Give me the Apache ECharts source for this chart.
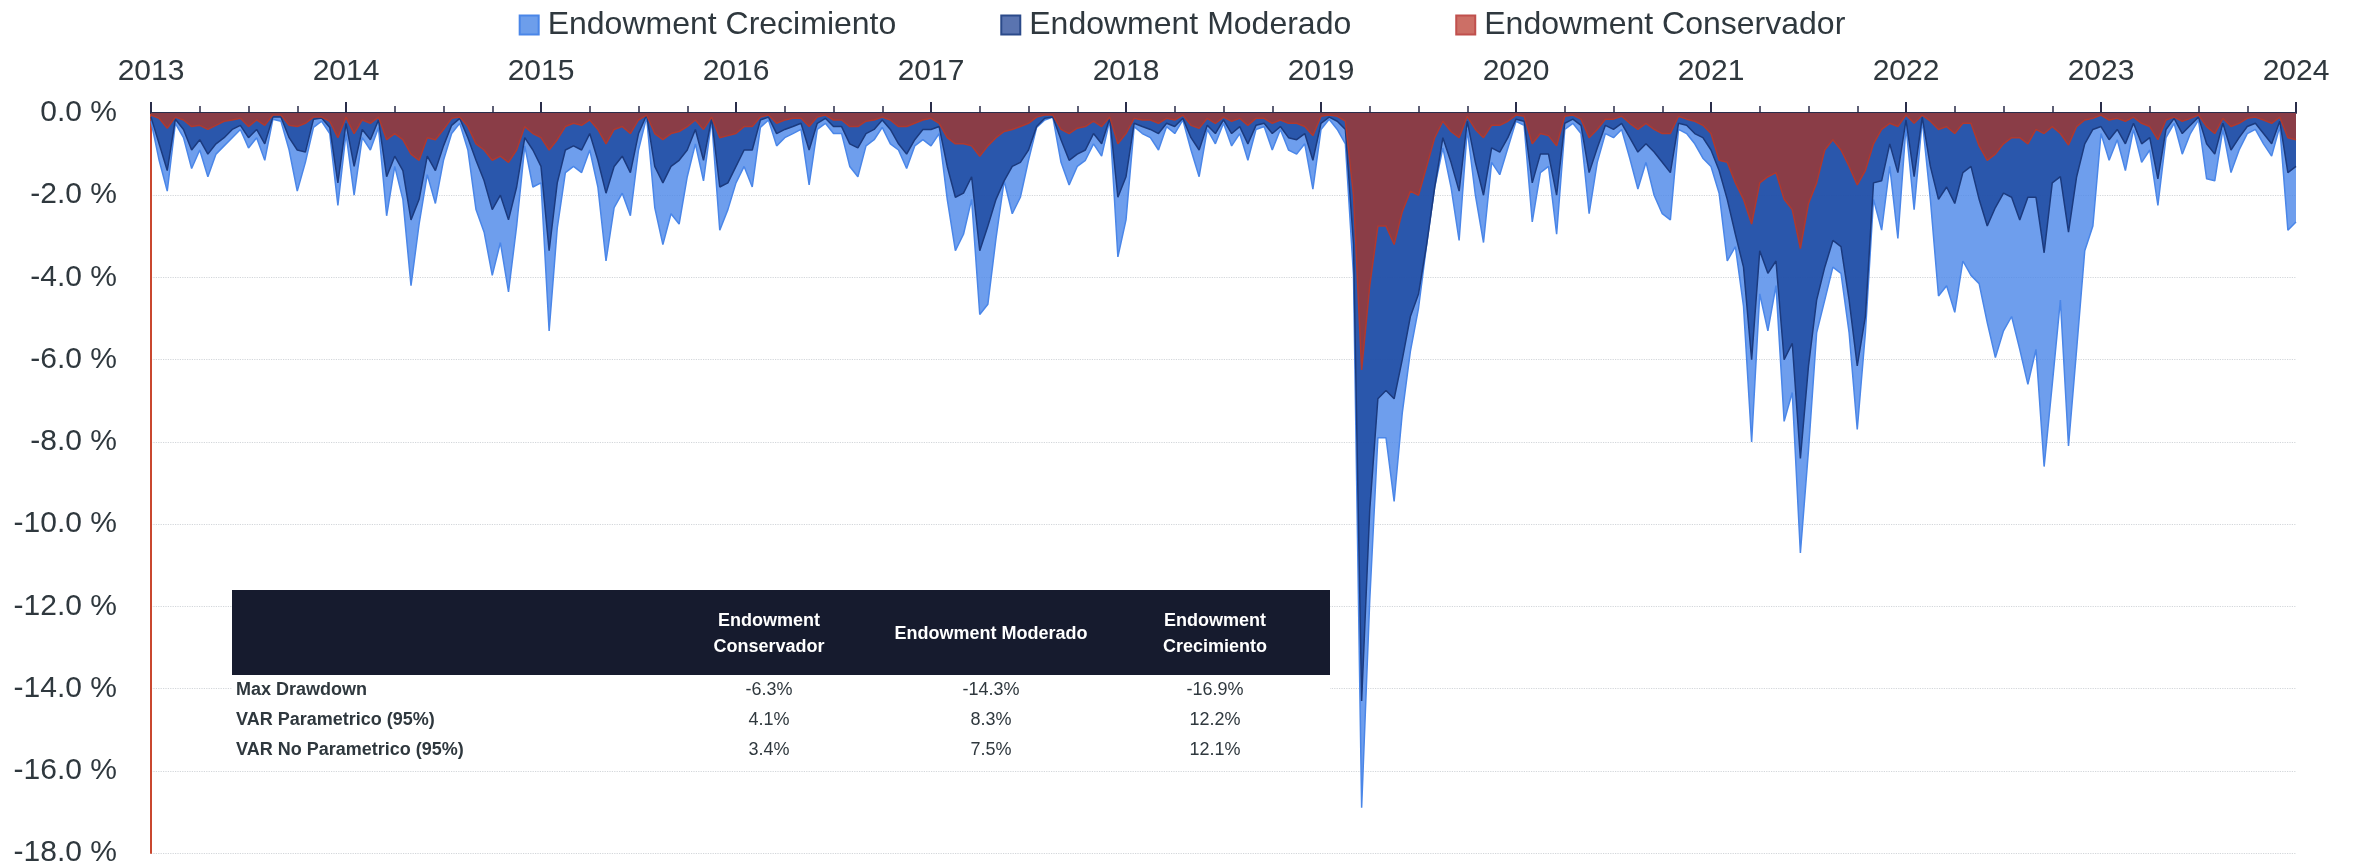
<!DOCTYPE html>
<html><head><meta charset="utf-8">
<script src="https://cdn.jsdelivr.net/npm/echarts@6/dist/echarts.min.js"></script>
<style>html,body{margin:0;padding:0;background:#fff}#c{width:2364px;height:868px}</style>
</head><body><div id="c"></div>
<script>
// Semi-monthly samples (24 per year) from 2013 to 2024, drawdown in %
const startYear = 2013;
const pointsPerYear = 24;
const yearLabels = ['2013','2014','2015','2016','2017','2018','2019','2020','2021','2022','2023','2024'];

const crecimiento = [
  // 2013
  -0.2,-1.15,-1.9,-0.25,-0.6,-1.35,-0.9,-1.55,-1.0,-0.8,-0.6,-0.4,-0.85,-0.6,-1.15,-0.15,-0.2,-0.9,-1.9,-1.2,-0.35,-0.2,-0.5,-2.25,
  // 2014
  -0.5,-2.0,-0.6,-0.9,-0.35,-2.5,-1.3,-2.1,-4.2,-2.7,-1.5,-2.2,-1.15,-0.5,-0.25,-0.9,-2.35,-2.9,-3.95,-3.15,-4.35,-2.75,-0.8,-1.8,
  // 2015
  -1.7,-5.3,-2.8,-1.45,-1.3,-1.45,-0.9,-1.8,-3.6,-2.3,-1.95,-2.5,-0.9,-0.1,-2.3,-3.2,-2.45,-2.7,-1.55,-0.75,-1.65,-0.17,-2.85,-2.35,
  // 2016
  -1.7,-1.3,-1.8,-0.35,-0.17,-0.8,-0.6,-0.5,-0.4,-1.75,-0.4,-0.25,-0.5,-0.5,-1.3,-1.55,-0.8,-0.65,-0.35,-0.75,-0.9,-1.35,-0.8,-0.65,
  // 2017
  -0.8,-0.5,-2.1,-3.35,-2.95,-2.1,-4.9,-4.65,-3.05,-1.65,-2.45,-2.05,-1.15,-0.35,-0.17,-0.1,-1.2,-1.75,-1.3,-1.15,-0.75,-1.05,-0.17,-3.5,
  // 2018
  -2.6,-0.33,-0.5,-0.6,-0.9,-0.33,-0.5,-0.17,-0.9,-1.55,-0.4,-0.75,-0.25,-0.8,-0.5,-1.15,-0.4,-0.33,-0.9,-0.4,-0.9,-1.0,-0.75,-1.85,
  // 2019
  -0.4,-0.15,-0.4,-0.75,-3.95,-16.9,-11.85,-7.9,-7.9,-9.45,-7.3,-5.8,-4.75,-3.2,-1.8,-0.85,-1.8,-3.1,-0.4,-2.0,-3.15,-1.2,-1.5,-0.85,
  // 2020
  -0.2,-0.3,-2.65,-1.45,-1.3,-2.95,-0.4,-0.25,-0.5,-2.45,-1.2,-0.5,-0.6,-0.4,-1.1,-1.85,-1.2,-2.0,-2.45,-2.6,-0.4,-0.5,-0.75,-1.1,
  // 2021
  -1.3,-1.95,-3.6,-3.25,-4.7,-8.0,-4.4,-5.3,-4.2,-7.5,-6.8,-10.7,-8.2,-5.35,-4.55,-3.75,-3.9,-5.35,-7.7,-5.35,-2.1,-2.85,-1.3,-3.05,
  // 2022
  -0.33,-2.35,-0.17,-2.1,-4.45,-4.2,-4.85,-3.6,-3.95,-4.15,-5.1,-5.95,-5.3,-4.95,-5.75,-6.6,-5.75,-8.6,-6.6,-4.55,-8.1,-5.75,-3.35,-2.75,
  // 2023
  -0.5,-1.15,-0.65,-1.4,-0.4,-1.2,-0.9,-2.25,-0.6,-0.25,-1.0,-0.5,-0.17,-1.6,-1.65,-0.4,-1.45,-0.9,-0.5,-0.4,-0.75,-1.05,-0.33,-2.85,
  // 2024
  -2.65
];

const moderado = [
  -0.1,-0.75,-1.4,-0.15,-0.4,-0.9,-0.65,-1.0,-0.75,-0.6,-0.4,-0.3,-0.6,-0.4,-0.75,-0.1,-0.1,-0.6,-0.9,-0.95,-0.15,-0.12,-0.35,-1.7,
  -0.25,-1.3,-0.4,-0.65,-0.17,-1.55,-1.05,-1.4,-2.6,-2.1,-1.05,-1.4,-0.8,-0.3,-0.13,-0.6,-1.15,-1.65,-2.35,-2.0,-2.6,-1.8,-0.6,-0.9,
  -1.3,-3.35,-1.7,-0.9,-0.8,-0.9,-0.5,-1.15,-1.95,-1.3,-1.05,-1.45,-0.5,-0.05,-1.3,-1.7,-1.3,-1.15,-0.9,-0.4,-1.15,-0.13,-1.8,-1.7,
  -1.3,-0.9,-0.9,-0.17,-0.1,-0.5,-0.4,-0.33,-0.25,-0.9,-0.25,-0.13,-0.33,-0.33,-0.75,-0.85,-0.5,-0.4,-0.17,-0.4,-0.75,-1.0,-0.65,-0.4,
  -0.4,-0.33,-1.3,-2.05,-1.95,-1.55,-3.35,-2.75,-2.1,-1.65,-1.3,-1.2,-0.9,-0.33,-0.13,-0.1,-0.65,-1.15,-1.0,-0.9,-0.5,-0.75,-0.13,-2.05,
  -1.55,-0.25,-0.33,-0.4,-0.5,-0.25,-0.33,-0.13,-0.6,-0.9,-0.3,-0.5,-0.17,-0.5,-0.33,-0.75,-0.3,-0.25,-0.5,-0.33,-0.6,-0.65,-0.5,-1.15,
  -0.25,-0.1,-0.2,-0.4,-3.2,-14.3,-9.65,-6.95,-6.75,-6.95,-6.0,-4.95,-4.4,-3.2,-1.8,-0.6,-1.2,-1.9,-0.2,-1.2,-2.0,-0.85,-0.95,-0.6,
  -0.15,-0.2,-1.7,-1.0,-1.0,-2.0,-0.25,-0.15,-0.3,-1.45,-0.85,-0.3,-0.4,-0.25,-0.6,-0.95,-0.75,-0.95,-1.2,-1.45,-0.25,-0.3,-0.5,-0.6,
  -0.9,-1.4,-2.1,-2.95,-3.75,-6.0,-3.35,-3.9,-3.6,-6.0,-5.6,-8.4,-6.15,-4.55,-3.75,-3.1,-3.25,-4.55,-6.15,-4.95,-1.7,-1.65,-0.75,-1.45,
  -0.17,-1.55,-0.1,-1.3,-2.1,-1.8,-2.2,-1.45,-1.3,-2.1,-2.75,-2.3,-1.95,-2.05,-2.6,-2.05,-2.05,-3.4,-1.7,-1.55,-2.9,-1.55,-0.75,-0.4,
  -0.33,-0.65,-0.4,-0.75,-0.25,-0.75,-0.6,-1.6,-0.4,-0.13,-0.5,-0.3,-0.1,-0.75,-1.0,-0.25,-0.9,-0.6,-0.33,-0.25,-0.5,-0.75,-0.2,-1.45,
  -1.3
];

const conservador = [
  -0.05,-0.13,-0.37,-0.1,-0.17,-0.33,-0.3,-0.4,-0.3,-0.2,-0.17,-0.13,-0.33,-0.17,-0.3,-0.05,-0.05,-0.3,-0.33,-0.25,-0.1,-0.1,-0.2,-0.6,
  -0.1,-0.5,-0.17,-0.25,-0.1,-0.65,-0.5,-0.65,-1.0,-1.15,-0.6,-0.65,-0.4,-0.13,-0.1,-0.33,-0.75,-0.9,-1.15,-1.05,-1.2,-0.9,-0.33,-0.5,
  -0.6,-0.9,-0.65,-0.33,-0.25,-0.3,-0.17,-0.4,-0.75,-0.4,-0.33,-0.5,-0.17,-0.05,-0.5,-0.65,-0.5,-0.45,-0.33,-0.17,-0.4,-0.1,-0.6,-0.55,
  -0.5,-0.33,-0.33,-0.1,-0.05,-0.25,-0.17,-0.13,-0.13,-0.33,-0.1,-0.05,-0.17,-0.17,-0.33,-0.33,-0.2,-0.17,-0.1,-0.17,-0.33,-0.33,-0.25,-0.17,
  -0.13,-0.25,-0.6,-0.75,-0.75,-0.8,-1.05,-0.8,-0.6,-0.45,-0.4,-0.33,-0.25,-0.1,-0.05,-0.05,-0.4,-0.5,-0.37,-0.33,-0.2,-0.33,-0.1,-0.75,
  -0.5,-0.13,-0.17,-0.17,-0.25,-0.13,-0.17,-0.05,-0.3,-0.37,-0.13,-0.25,-0.1,-0.2,-0.13,-0.3,-0.13,-0.13,-0.25,-0.17,-0.25,-0.25,-0.33,-0.55,
  -0.08,-0.05,-0.08,-0.2,-2.0,-6.25,-4.2,-2.75,-2.75,-3.2,-2.4,-1.9,-2.0,-1.3,-0.6,-0.2,-0.45,-0.6,-0.08,-0.4,-0.6,-0.3,-0.3,-0.2,
  -0.05,-0.08,-0.75,-0.5,-0.55,-0.8,-0.08,-0.05,-0.15,-0.6,-0.4,-0.15,-0.15,-0.08,-0.25,-0.4,-0.25,-0.4,-0.5,-0.5,-0.08,-0.15,-0.2,-0.3,
  -0.5,-1.15,-1.2,-1.7,-2.1,-2.7,-1.7,-1.55,-1.45,-2.1,-2.35,-3.3,-2.2,-1.7,-0.9,-0.65,-0.9,-1.3,-1.75,-1.4,-0.75,-0.4,-0.25,-0.33,
  -0.05,-0.25,-0.05,-0.2,-0.4,-0.33,-0.5,-0.25,-0.25,-0.8,-1.15,-1.0,-0.75,-0.6,-0.6,-0.75,-0.4,-0.5,-0.33,-0.5,-0.78,-0.33,-0.17,-0.13,
  -0.05,-0.17,-0.13,-0.2,-0.1,-0.25,-0.33,-0.65,-0.17,-0.1,-0.2,-0.13,-0.05,-0.33,-0.5,-0.13,-0.33,-0.25,-0.13,-0.1,-0.17,-0.25,-0.1,-0.6,
  -0.65
];

const seriesNames = ['Endowment Crecimiento','Endowment Moderado','Endowment Conservador'];
const tableColumns = ['Endowment\nConservador','Endowment Moderado','Endowment\nCrecimiento'];
const tableRows = ['Max Drawdown','VAR Parametrico (95%)','VAR No Parametrico (95%)'];
const tableValues = [
  ['-6.3%','-14.3%','-16.9%'],
  ['4.1%','8.3%','12.2%'],
  ['3.4%','7.5%','12.1%']
];

const toPairs = arr => arr.map((v, i) => [startYear + i / pointsPerYear, v]);

const FONT = '"Liberation Sans", Arial, sans-serif';
const TXT = '#2f383e';

const chart = echarts.init(document.getElementById('c'), null, {renderer: 'canvas'});

// Table graphics
const colX = [769, 991, 1215];
const rowY = [690, 720, 750];
const graphics = [
  {type: 'rect', z: 100, shape: {x: 232, y: 590, width: 1098, height: 85}, style: {fill: '#161b2e'}},
  {type: 'rect', z: 100, shape: {x: 232, y: 675, width: 1098, height: 90}, style: {fill: '#ffffff'}}
];
tableColumns.forEach((t, i) => {
  graphics.push({type: 'text', z: 101, style: {text: t, x: colX[i], y: 634, align: 'center', verticalAlign: 'middle',
    fontSize: 18, fontWeight: 'bold', fontFamily: FONT, fill: '#ffffff', lineHeight: 26}});
});
tableRows.forEach((t, r) => {
  graphics.push({type: 'text', z: 101, style: {text: t, x: 236, y: rowY[r], align: 'left', verticalAlign: 'middle',
    fontSize: 18, fontWeight: 'bold', fontFamily: FONT, fill: TXT}});
  tableValues[r].forEach((v, c) => {
    graphics.push({type: 'text', z: 101, style: {text: v, x: colX[c], y: rowY[r], align: 'center', verticalAlign: 'middle',
      fontSize: 18, fontFamily: FONT, fill: TXT}});
  });
});

const option = {
  animation: false,
  backgroundColor: '#ffffff',
  grid: {left: 151, right: 68, top: 113, bottom: 15, containLabel: false},
  legend: {
    top: 4, left: 'center', itemGap: 104, itemWidth: 19, itemHeight: 19, icon: 'rect',
    textStyle: {fontSize: 32, color: TXT, fontFamily: FONT, padding: [0, 0, 0, 4]},
    data: [
      {name: seriesNames[0], itemStyle: {color: '#6d9eeb', borderColor: '#4a86e8', borderWidth: 2}},
      {name: seriesNames[1], itemStyle: {color: '#5a74b0', borderColor: '#2b4a8a', borderWidth: 2}},
      {name: seriesNames[2], itemStyle: {color: '#cc6f66', borderColor: '#c0504d', borderWidth: 2}}
    ]
  },
  xAxis: {
    type: 'value', position: 'top', min: 2013, max: 2024, interval: 1,
    axisLine: {show: true, onZero: false, lineStyle: {color: '#2a2d4a', width: 2}},
    axisTick: {show: true, length: 11, lineStyle: {color: '#2a2d4a', width: 2}},
    minorTick: {show: true, splitNumber: 4, length: 7, lineStyle: {color: '#2a2d4a', width: 1.5}},
    splitLine: {show: false},
    axisLabel: {fontSize: 30, color: TXT, fontFamily: FONT, margin: 26,
      formatter: v => yearLabels[Math.round(v) - startYear] || ''}
  },
  yAxis: {
    type: 'value', min: -18, max: 0, interval: 2,
    axisLine: {show: true, lineStyle: {color: '#c9472f', width: 2}},
    axisTick: {show: false},
    splitLine: {show: true, lineStyle: {color: '#d3d6da', type: 'dotted', width: 1.2}},
    axisLabel: {fontSize: 30, color: TXT, fontFamily: FONT, margin: 34,
      formatter: v => v.toFixed(1) + ' %'}
  },
  graphic: graphics,
  series: [
    {name: seriesNames[0], type: 'line', data: toPairs(crecimiento), symbol: 'none', z: 2,
      lineStyle: {color: '#4a86e8', width: 1.5}, itemStyle: {color: '#4a86e8'},
      areaStyle: {color: '#4a86e8', opacity: 0.8}},
    {name: seriesNames[1], type: 'line', data: toPairs(moderado), symbol: 'none', z: 3,
      lineStyle: {color: '#1b3a7e', width: 1.5}, itemStyle: {color: '#1f4aa0'},
      areaStyle: {color: '#1f4aa0', opacity: 0.85}},
    {name: seriesNames[2], type: 'line', data: toPairs(conservador), symbol: 'none', z: 4,
      lineStyle: {color: '#b0392e', width: 1.5}, itemStyle: {color: '#a3372e'},
      areaStyle: {color: '#a3372e', opacity: 0.8}}
  ]
};
chart.setOption(option);
</script>
</body></html>
